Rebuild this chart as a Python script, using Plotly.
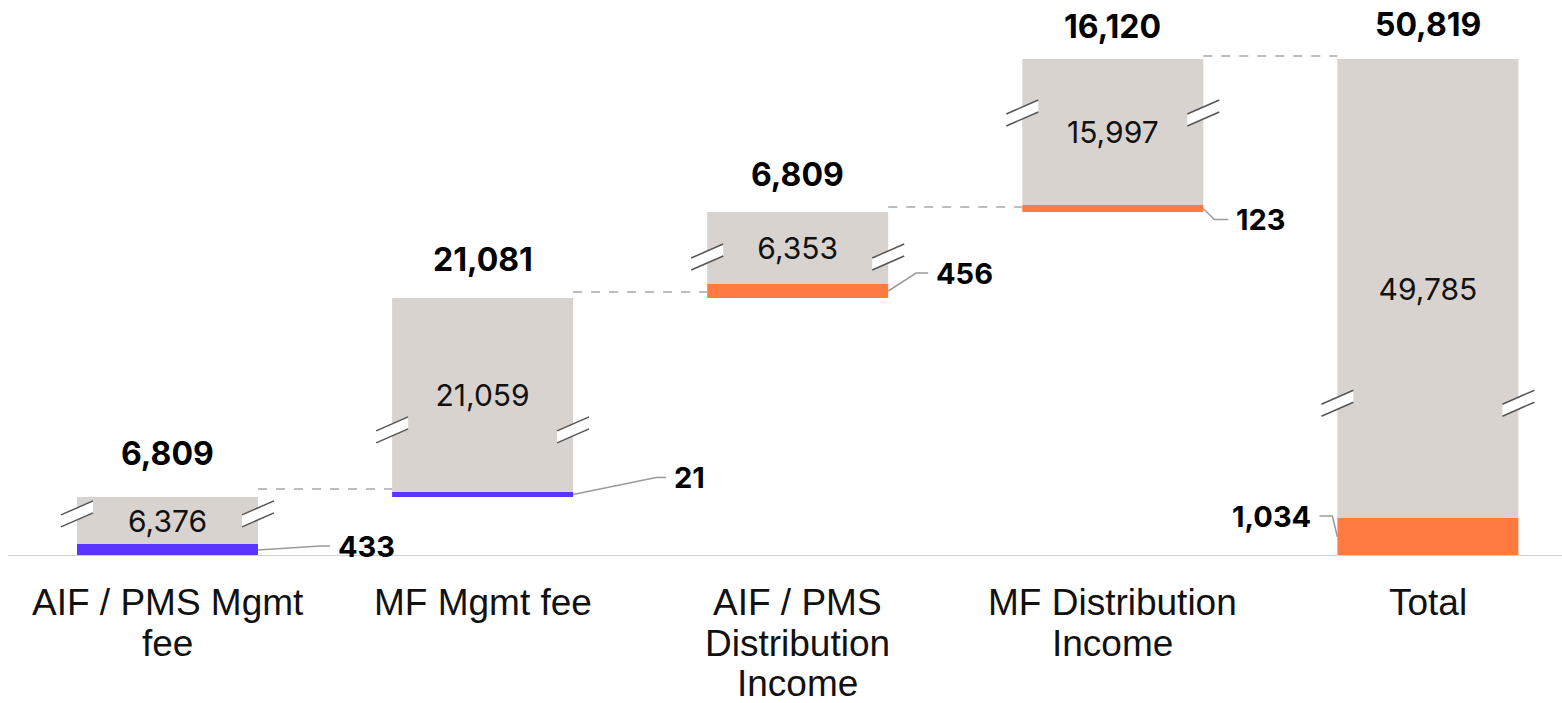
import plotly.graph_objects as go

# ---------------- data ----------------
categories = ["AIF / PMS Mgmt fee", "MF Mgmt fee", "AIF / PMS Distribution Income",
              "MF Distribution Income", "Total"]
category_lines = [["AIF / PMS Mgmt", "fee"], ["MF Mgmt fee"],
                  ["AIF / PMS", "Distribution", "Income"],
                  ["MF Distribution", "Income"], ["Total"]]
colored_values = [433, 21, 456, 123, 1034]
gray_values = [6376, 21059, 6353, 15997, 49785]
total_values = [6809, 21081, 6809, 16120, 50819]
is_total = [False, False, False, False, True]

# broken (not-to-scale) axis: visual heights of each segment as drawn in the picture
colored_display = [12, 5, 14, 7, 38]
gray_display = [47, 194, 72, 146, 459]

# ---------------- styles / layout helpers ----------------
BLUE = "#5A35FF"
ORANGE = "#FF7A40"
GRAY = "#D9D3D0"
colored_colors = [BLUE, BLUE, ORANGE, ORANGE, ORANGE]

SCALE = 315.1          # pixels per category step
X0_PX = 167.5          # pixel position of first category centre
PLOT_H = 556           # plot-area height in pixels (1 display unit = 1 px)
W = 181 / SCALE        # bar width
NUM_FONT = "Inter"
CAT_FONT = "Liberation Sans, Arial"

# side-label leader geometry (pixels): slanted end dx1, horizontal end dx2, label dy
side_cfg = [(62, 72, 4), (83, 93, 17), (28, 40, 18), (11, 25, -11), (-5, -18, 21)]
# vertical position of break marks as fraction of gray segment
break_frac = [0.64, 0.32, 0.375, 0.63, 0.25]
top_label_gap = [44, 39, 38, 33, 35]
connector_gap = [8, 6, 5, 3]

x = list(range(len(categories)))

# waterfall bases (in display units)
bases = []
running = 0
for i in range(len(categories)):
    if is_total[i]:
        bases.append(0)
    else:
        bases.append(running)
        running += colored_display[i] + gray_display[i]
gray_bases = [b + c for b, c in zip(bases, colored_display)]
tops = [g + h for g, h in zip(gray_bases, gray_display)]

fig = go.Figure()
fig.add_trace(go.Bar(x=x, y=colored_display, base=bases, width=W,
                     marker=dict(color=colored_colors, line=dict(width=0)),
                     hoverinfo="skip", showlegend=False))
fig.add_trace(go.Bar(x=x, y=gray_display, base=gray_bases, width=W,
                     marker=dict(color=GRAY, line=dict(width=0)),
                     text=[f"{v:,}" for v in gray_values],
                     textposition="inside", insidetextanchor="middle",
                     textfont=dict(family=NUM_FONT, size=30, color="#111111"),
                     hoverinfo="skip", showlegend=False))

shapes = []
annotations = []

def px(dx):
    return dx / SCALE

for i in x:
    # top total labels
    annotations.append(dict(x=i, y=tops[i] + top_label_gap[i], xref="x", yref="y",
                            text=f"{total_values[i]:,}", showarrow=False,
                            xanchor="center", yanchor="middle",
                            font=dict(family=NUM_FONT, size=32, color="#000000", weight="bold")))
    # side labels with leader lines
    dx1, dx2, dy = side_cfg[i]
    cm = bases[i] + colored_display[i] / 2
    ly = cm + dy
    edge = i + W / 2 if dx2 > 0 else i - W / 2
    shapes.append(dict(type="path", xref="x", yref="y",
                       path=f"M {edge},{cm} L {edge + px(dx1)},{ly} L {edge + px(dx2)},{ly}",
                       line=dict(color="#9A9A9A", width=1.5)))
    annotations.append(dict(x=edge + px(dx2 + (6 if dx2 > 0 else -6)), y=ly, xref="x", yref="y",
                            text=f"{colored_values[i]:,}", showarrow=False,
                            xanchor="left" if dx2 > 0 else "right", yanchor="middle",
                            font=dict(family=NUM_FONT, size=29, color="#000000", weight="bold")))
    # break marks on both edges
    cy = gray_bases[i] + gray_display[i] * break_frac[i]
    for ex in (i - W / 2, i + W / 2):
        a, b = ex - px(16), ex + px(16)
        shapes.append(dict(type="path", xref="x", yref="y",
                           path=f"M {a},{cy - 1} L {b},{cy + 13} L {b},{cy + 1} L {a},{cy - 13} Z",
                           fillcolor="white", line=dict(width=0)))
        shapes.append(dict(type="line", xref="x", yref="y", x0=a, y0=cy - 1, x1=b, y1=cy + 13,
                           line=dict(color="#555555", width=1.5)))
        shapes.append(dict(type="line", xref="x", yref="y", x0=a, y0=cy - 13, x1=b, y1=cy + 1,
                           line=dict(color="#555555", width=1.5)))
    # connectors
    if i < len(x) - 1:
        yc = tops[i] + connector_gap[i]
        shapes.append(dict(type="line", xref="x", yref="y",
                           x0=i + W / 2, x1=i + 1 - W / 2, y0=yc, y1=yc,
                           line=dict(color="#BDBDBD", width=2, dash="dash")))
    # category labels (below the plot area, paper coordinates)
    for j, line in enumerate(category_lines[i]):
        annotations.append(dict(x=i, y=-(46.5 + 40.5 * j) / PLOT_H, xref="x", yref="paper",
                                text=line, showarrow=False, xanchor="center", yanchor="middle",
                                font=dict(family=CAT_FONT, size=37, color="#111111")))

# baseline
shapes.append(dict(type="line", xref="paper", yref="y", x0=0.005, x1=1, y0=0, y1=0,
                   line=dict(color="#D0D0D0", width=2)))

fig.update_layout(
    width=1562, height=703,
    margin=dict(l=0, r=0, t=0, b=703 - PLOT_H),
    plot_bgcolor="white", paper_bgcolor="white",
    barmode="overlay",
    xaxis=dict(range=[-X0_PX / SCALE, (1562 - X0_PX) / SCALE], visible=False),
    yaxis=dict(range=[0, PLOT_H], visible=False),
    uniformtext=dict(minsize=30, mode="show"),
    shapes=shapes, annotations=annotations,
)

fig.write_html("out.html")
